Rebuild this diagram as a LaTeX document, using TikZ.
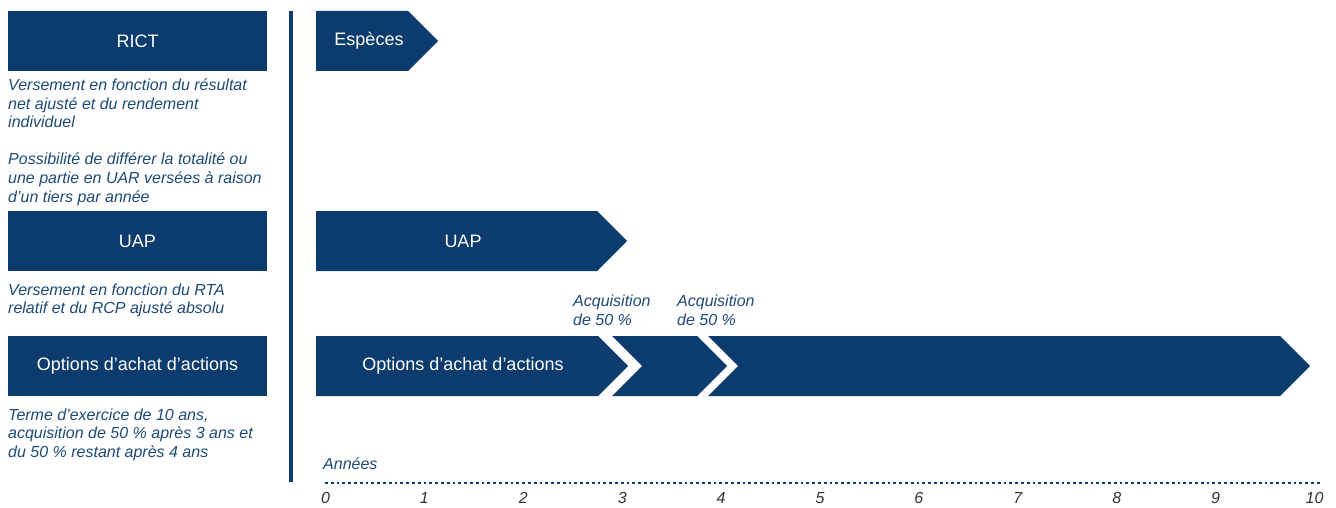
\documentclass[tikz,border=0pt]{standalone}
\usepackage{fontspec}
\setmainfont{Liberation Sans}
\definecolor{navy}{HTML}{0B3C6D}
\definecolor{desc}{HTML}{1D4A78}
\definecolor{num}{HTML}{333333}
\newcommand{\lines}[1]{\begin{tabular}[t]{@{}l@{}}#1\end{tabular}}
\begin{document}
\begin{tikzpicture}[x=1pt,y=-1pt,
  lbox/.style={fill=navy,text=white,minimum width=259pt,minimum height=60pt,inner sep=0pt,font=\fontsize{18}{21}\selectfont},
  blabel/.style={text=white,inner sep=0pt,font=\fontsize{18}{21}\selectfont},
  desctext/.style={anchor=base west,inner sep=0pt,text=desc,font=\fontsize{16}{18.6}\selectfont\itshape},
  tick/.style={inner sep=0pt,text=num,font=\fontsize{16}{18}\selectfont\itshape},
  chev/.style={fill=navy}]
\useasboundingbox (0,0) rectangle (1336,508);
% left boxes
\node[lbox] (rict) at (137.5,41) {RICT};
\node[lbox] (uap) at (137.5,241) {UAP};
\node[lbox] (opt) at (137.5,366) {Options d’achat d’actions};
% descriptions
\node[desctext] (d1) at (8,90.5) {\lines{Versement en fonction du résultat\\net ajusté et du rendement\\individuel\\ \\Possibilité de différer la totalité ou\\une partie en UAR versées à raison\\d’un tiers par année}};
\node[desctext] (d2) at (8,295) {\lines{Versement en fonction du RTA\\relatif et du RCP ajusté absolu}};
\node[desctext] (d3) at (8,420) {\lines{Terme d’exercice de 10 ans,\\acquisition de 50 \% après 3 ans et\\du 50 \% restant après 4 ans}};
% separator
\coordinate (vtop) at (291,11);
\coordinate (vbot) at (291,482);
\draw[navy,line width=4.5pt] (vtop) -- (vbot);
% chevrons
\fill[chev] (316,11) -- (408,11) -- (438,41) -- (408,71) -- (316,71) -- cycle;
\node[blabel] (esp) at (369,41) {Espèces};
\fill[chev] (316,211) -- (597,211) -- (627,241) -- (597,271) -- (316,271) -- cycle;
\node[blabel] (uapa) at (463,241) {UAP};
\fill[chev] (316,336) -- (598,336) -- (628,366) -- (598,396) -- (316,396) -- cycle;
\fill[chev] (612,336) -- (697,336) -- (727,366) -- (697,396) -- (612,396) -- (642,366) -- cycle;
\fill[chev] (708,336) -- (1280,336) -- (1310,366) -- (1280,396) -- (708,396) -- (738,366) -- cycle;
\node[blabel] (opta) at (463,366) {Options d’achat d’actions};
% acquisition labels
\node[desctext] (acq1) at (573,306.5) {\lines{Acquisition\\de 50 \%}};
\node[desctext] (acq2) at (677,306.5) {\lines{Acquisition\\de 50 \%}};
% axis
\node[desctext] (annees) at (323,469) {Années};
\coordinate (dl) at (325,483);
\coordinate (dr) at (1322,483);
\draw[navy,line width=2.8pt,dash pattern=on 2.8pt off 3pt] (dl) -- (dr);
\foreach \i in {0,...,10} {
  \node[tick,anchor=base] (t\i) at (325.5+98.9*\i,503) {\i};
}
\end{tikzpicture}
\end{document}
